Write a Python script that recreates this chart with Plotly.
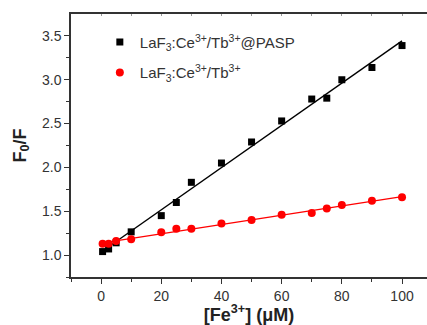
import numpy as np
import plotly.graph_objects as go

conc = [0.5, 2.5, 5, 10, 20, 25, 30, 40, 50, 60, 70, 75, 80, 90, 100]
pasp = [1.04, 1.07, 1.14, 1.265, 1.45, 1.60, 1.83, 2.05, 2.29, 2.53, 2.78, 2.79, 3.00, 3.14, 3.39]
bare = [1.13, 1.13, 1.16, 1.18, 1.26, 1.30, 1.30, 1.36, 1.40, 1.46, 1.48, 1.53, 1.57, 1.62, 1.66]
names = ["LaF<sub>3</sub>:Ce<sup>3+</sup>/Tb<sup>3+</sup>@PASP",
         "LaF<sub>3</sub>:Ce<sup>3+</sup>/Tb<sup>3+</sup>"]

FONT = "Liberation Sans, Arial, sans-serif"
x = np.array(conc)
fx = np.array([conc[0], conc[-1]])
k1, b1 = np.polyfit(x, np.array(pasp), 1)
k2, b2 = np.polyfit(x, np.array(bare), 1)

fig = go.Figure()
fig.add_trace(go.Scatter(x=fx, y=k1 * fx + b1, mode="lines", line=dict(color="black", width=1.4),
                         showlegend=False, hoverinfo="skip"))
fig.add_trace(go.Scatter(x=fx, y=k2 * fx + b2, mode="lines", line=dict(color="#ff0000", width=1.4),
                         showlegend=False, hoverinfo="skip"))
fig.add_trace(go.Scatter(x=conc, y=pasp, mode="markers", name=names[0], legendgroup="a",
                         marker=dict(symbol="square", size=7, color="black")))
fig.add_trace(go.Scatter(x=conc, y=bare, mode="markers", name=names[1], legendgroup="b",
                         marker=dict(symbol="circle", size=8, color="#ff0000")))

axcol = "#333333"
fig.update_layout(
    width=427, height=325,
    margin=dict(l=71, r=0, t=14, b=48),
    paper_bgcolor="white", plot_bgcolor="white",
    font=dict(family=FONT, size=14, color="#333333"),
    showlegend=True,
    legend=dict(x=0.081, y=0.955, xanchor="left", yanchor="top", bgcolor="rgba(0,0,0,0)",
                font=dict(size=15, color="#333333"), tracegroupgap=8, itemwidth=30),
    xaxis=dict(range=[-10, 108.3], showline=True, linecolor=axcol, linewidth=1.5,
               ticks="outside", ticklen=5, tickwidth=1.3, tickcolor=axcol,
               tickmode="array", tickvals=[0, 20, 40, 60, 80, 100],
               minor=dict(tickvals=[-10, 10, 30, 50, 70, 90], ticks="outside", ticklen=3, tickwidth=1.2, tickcolor=axcol),
               showgrid=False, zeroline=False, tickfont=dict(size=14, color="#333333"),
               title=dict(text="<b>[Fe<sup>3+</sup>] (μM)</b>", font=dict(size=18, color="#222222"), standoff=2)),
    xaxis2=dict(range=[-10, 108.3], overlaying="x", side="top", showline=True, linecolor=axcol, linewidth=1.5,
                ticks="inside", ticklen=2, tickwidth=1, tickcolor="#999999",
                tickmode="array", tickvals=[-10, 0, 10, 20, 30, 40, 50, 60, 70, 80, 90, 100],
                showticklabels=False, showgrid=False, zeroline=False),
    yaxis=dict(range=[0.75, 3.75], showline=True, linecolor=axcol, linewidth=1.5,
               ticks="outside", ticklen=5, tickwidth=1.3, tickcolor=axcol,
               tickmode="array", tickvals=[1.0, 1.5, 2.0, 2.5, 3.0, 3.5], ticktext=["1.0", "1.5", "2.0", "2.5", "3.0", "3.5"],
               minor=dict(tickvals=[0.75, 1.25, 1.75, 2.25, 2.75, 3.25], ticks="outside", ticklen=3, tickwidth=1.2, tickcolor=axcol),
               showgrid=False, zeroline=False, tickfont=dict(size=14, color="#333333"),
               title=dict(text="<b>F<sub>0</sub>/F</b>", font=dict(size=18, color="#222222"), standoff=11)),
)
# dummy trace to activate the top axis
fig.add_trace(go.Scatter(x=[None], y=[None], xaxis="x2", showlegend=False, hoverinfo="skip"))

fig.write_html("out.html", config={"displayModeBar": False},
               post_script="document.body.style.margin='0';document.body.style.padding='0';")
